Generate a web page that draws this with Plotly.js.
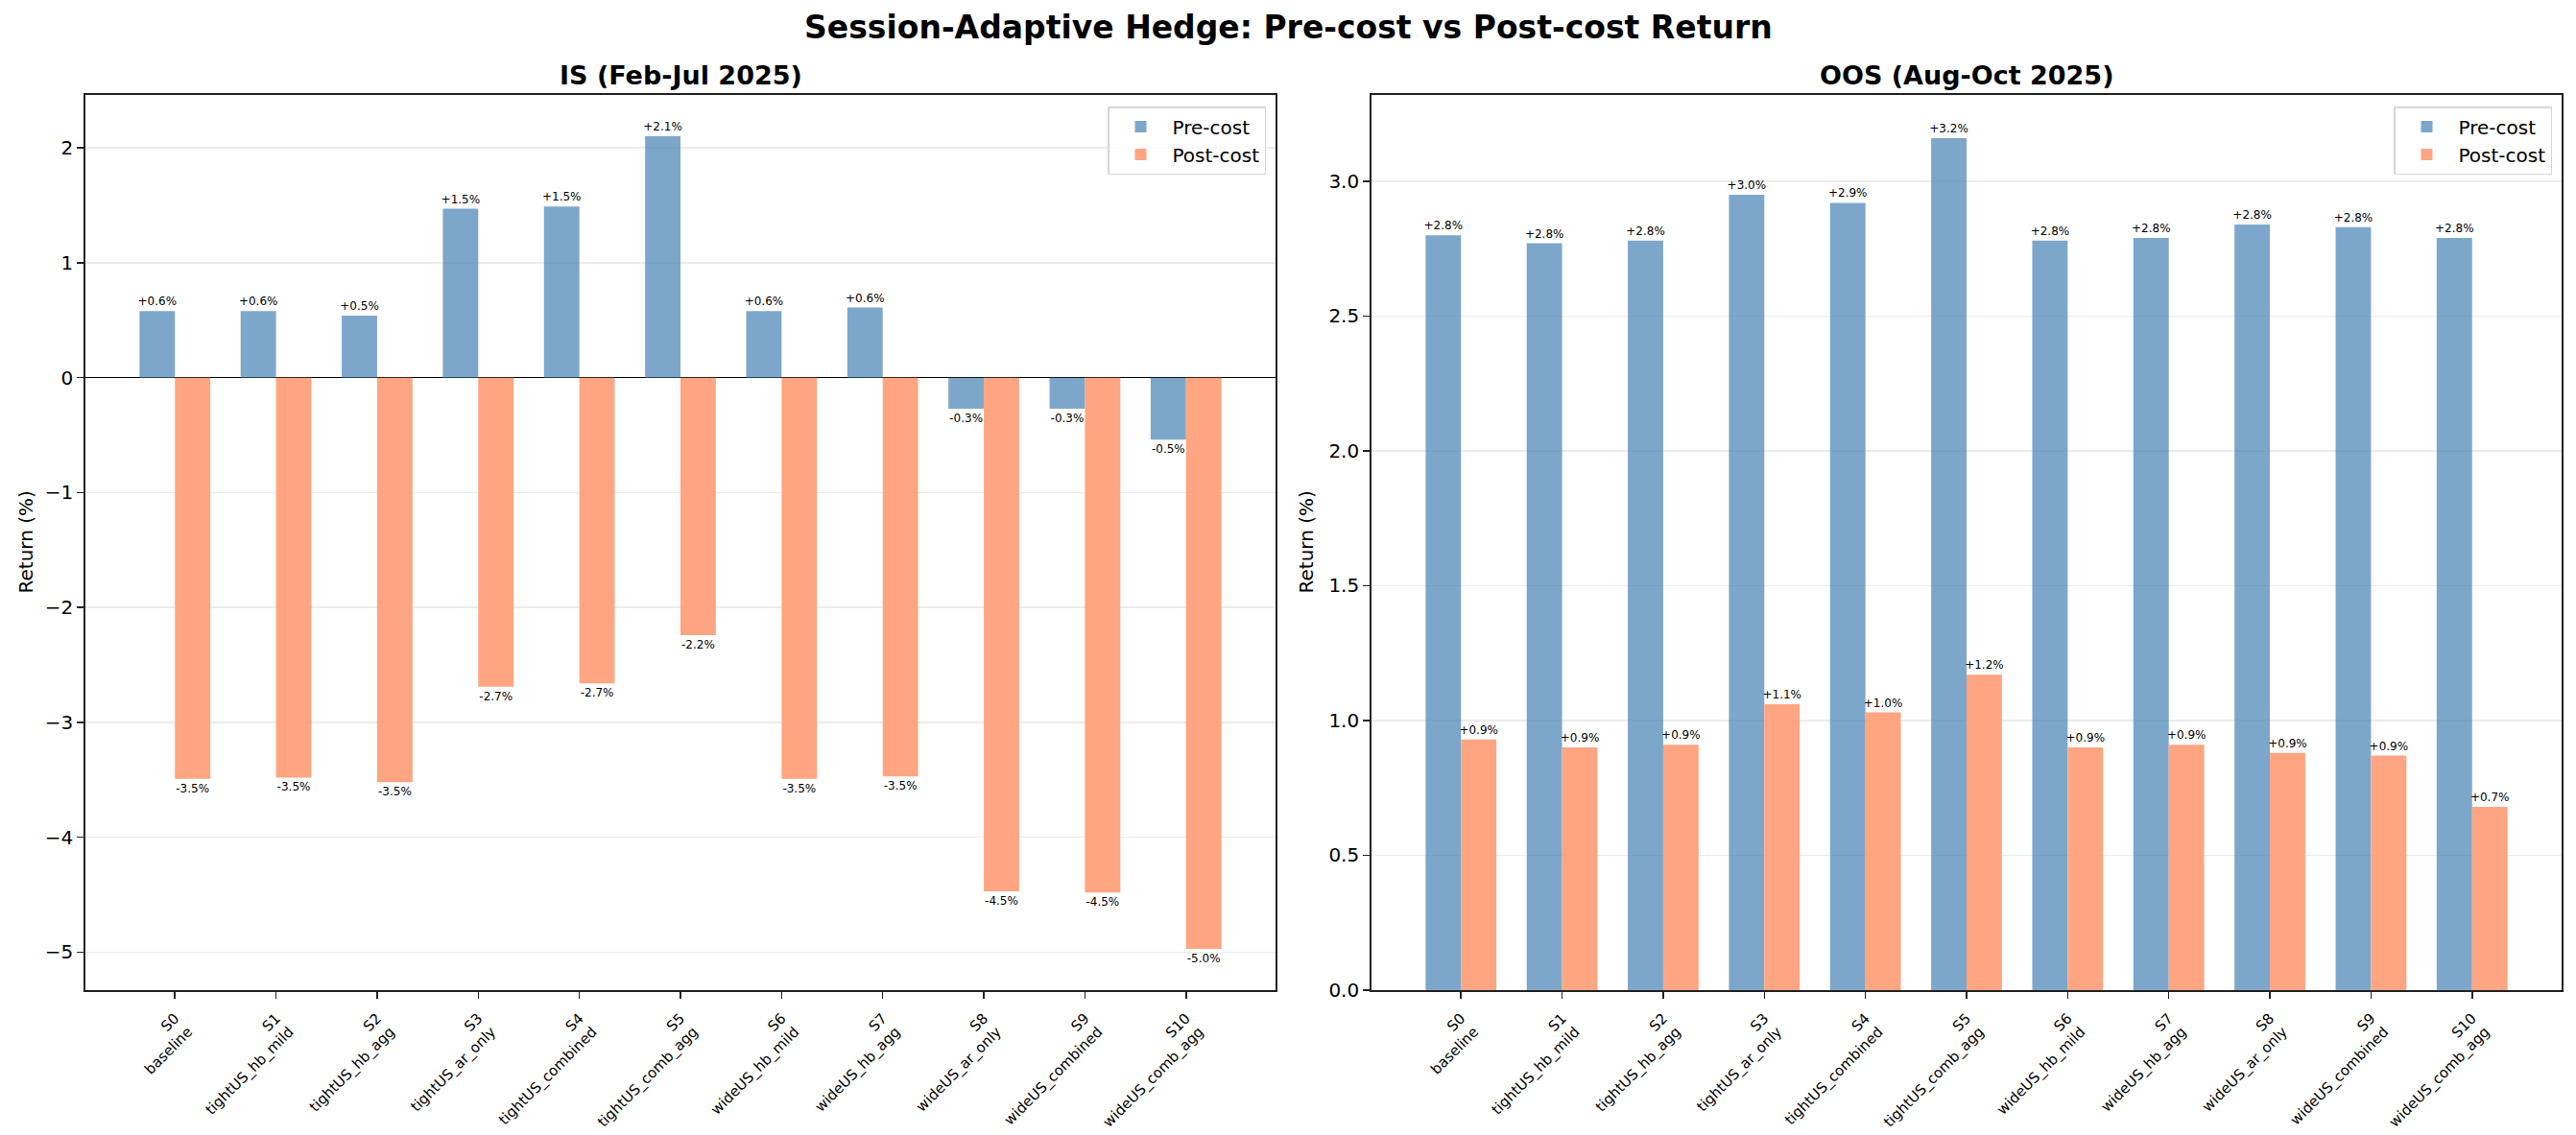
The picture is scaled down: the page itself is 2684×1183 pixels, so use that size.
<!DOCTYPE html>
<html>
<head>
<meta charset="utf-8">
<script src="https://cdn.plot.ly/plotly-3.0.1.min.js"></script>
<style>
  html, body { margin: 0; padding: 0; background: #fff; }
  #chart { width: 2684px; height: 1183px; }
</style>
</head>
<body>
<div id="chart"></div>
<script>
// strategy labels
const codes = ['S0', 'S1', 'S2', 'S3', 'S4', 'S5', 'S6', 'S7', 'S8', 'S9', 'S10'];
const names = ['baseline', 'tightUS_hb_mild', 'tightUS_hb_agg', 'tightUS_ar_only', 'tightUS_combined',
  'tightUS_comb_agg', 'wideUS_hb_mild', 'wideUS_hb_agg', 'wideUS_ar_only', 'wideUS_combined', 'wideUS_comb_agg'];

// IS (Feb-Jul 2025), return in %
const isPre = [0.58, 0.58, 0.54, 1.47, 1.49, 2.10, 0.58, 0.61, -0.27, -0.27, -0.54];
const isPost = [-3.49, -3.48, -3.52, -2.69, -2.66, -2.24, -3.49, -3.47, -4.47, -4.48, -4.97];

// OOS (Aug-Oct 2025), return in %
const oosPre = [2.80, 2.77, 2.78, 2.95, 2.92, 3.16, 2.78, 2.79, 2.84, 2.83, 2.79];
const oosPost = [0.93, 0.90, 0.91, 1.06, 1.03, 1.17, 0.90, 0.91, 0.88, 0.87, 0.68];

const FONT = 'DejaVu Sans, Verdana, sans-serif';
const BLUE = 'rgba(70,130,180,0.7)';
const SALMON = 'rgba(255,160,122,0.95)';

const idx = codes.map((c, i) => i);
const tickText = codes.map((c, i) => c + '<br>' + names[i]);
const fmt = v => (v >= 0 ? '+' : '-') + Math.abs(v).toFixed(1) + '%';

// plot areas in px, same width for both panels
const W = 2684, H = 1183;
const leftPx = [89, 1329], rightPx = [1429, 2669], topPx = 99, bottomPx = 1032;
const dom = a => [a[0] / W, a[1] / W];
const yDom = [1 - bottomPx / H, 1 - topPx / H];

function bars(vals, name, color, offset, xa, ya, legend) {
  return {
    type: 'bar', x: idx, y: vals, name: name,
    width: 0.35, offset: offset,
    marker: {color: color, line: {width: 0}},
    text: vals.map(fmt), textposition: 'outside',
    textfont: {family: FONT, size: 12, color: '#000'},
    constraintext: 'none', cliponaxis: false,
    xaxis: xa, yaxis: ya, legend: legend,
    hoverinfo: 'skip'
  };
}

const data = [
  bars(isPre, 'Pre-cost', BLUE, -0.35, 'x', 'y', 'legend'),
  bars(isPost, 'Post-cost', SALMON, 0, 'x', 'y', 'legend'),
  bars(oosPre, 'Pre-cost', BLUE, -0.35, 'x2', 'y2', 'legend2'),
  bars(oosPost, 'Post-cost', SALMON, 0, 'x2', 'y2', 'legend2')
];

const xCommon = {
  range: [-0.885, 10.885], tickmode: 'array', tickvals: idx, ticktext: tickText,
  tickangle: -45, tickfont: {family: FONT, size: 15, color: '#000'},
  ticks: 'outside', ticklen: 7, tickwidth: 1.5, tickcolor: '#222', ticklabelstandoff: 6,
  showline: true, linecolor: '#222', linewidth: 1.8, mirror: true,
  showgrid: false, zeroline: false, fixedrange: true
};
const yCommon = {
  ticks: 'outside', ticklen: 7, tickwidth: 1.5, tickcolor: '#222',
  tickfont: {family: FONT, size: 20, color: '#000'},
  showline: true, linecolor: '#222', linewidth: 1.8, mirror: true,
  showgrid: true, gridcolor: '#ebebeb', gridwidth: 1.5, fixedrange: true
};

const legendCommon = {
  xanchor: 'right', y: 1 - 111 / H, yanchor: 'top',
  bordercolor: '#d6d6d6', borderwidth: 1.5, bgcolor: 'rgba(255,255,255,0.8)',
  font: {family: FONT, size: 20, color: '#000'}, itemwidth: 56
};

const layout = {
  width: W, height: H,
  margin: {l: 0, r: 0, t: 0, b: 0},
  paper_bgcolor: '#fff', plot_bgcolor: '#fff',
  font: {family: FONT, color: '#000'},
  barmode: 'overlay',
  xaxis: Object.assign({}, xCommon, {domain: dom(leftPx), anchor: 'y'}),
  yaxis: Object.assign({}, yCommon, {
    domain: yDom, anchor: 'x', range: [-5.33, 2.46], dtick: 1,
    zeroline: true, zerolinecolor: '#000', zerolinewidth: 1.3
  }),
  xaxis2: Object.assign({}, xCommon, {domain: dom(rightPx), anchor: 'y2'}),
  yaxis2: Object.assign({}, yCommon, {
    domain: yDom, anchor: 'x2', range: [0, 3.32], dtick: 0.5,
    tickformat: '.1f', zeroline: false
  }),
  legend: Object.assign({}, legendCommon, {x: (leftPx[1] - 10) / W}),
  legend2: Object.assign({}, legendCommon, {x: (rightPx[1] - 10) / W}),
  annotations: [
    {text: '<b>Session-Adaptive Hedge: Pre-cost vs Post-cost Return</b>', xref: 'paper', yref: 'paper',
      x: 0.5, y: 1 - 29 / H, xanchor: 'center', yanchor: 'middle', showarrow: false,
      font: {family: FONT, size: 33, color: '#000'}},
    {text: '<b>IS (Feb-Jul 2025)</b>', xref: 'paper', yref: 'paper',
      x: (leftPx[0] + leftPx[1]) / 2 / W, y: 1 - 79 / H, xanchor: 'center', yanchor: 'middle', showarrow: false,
      font: {family: FONT, size: 27, color: '#000'}},
    {text: '<b>OOS (Aug-Oct 2025)</b>', xref: 'paper', yref: 'paper',
      x: (rightPx[0] + rightPx[1]) / 2 / W, y: 1 - 79 / H, xanchor: 'center', yanchor: 'middle', showarrow: false,
      font: {family: FONT, size: 27, color: '#000'}},
    {text: 'Return (%)', xref: 'paper', yref: 'paper', textangle: -90,
      x: 26 / W, y: (yDom[0] + yDom[1]) / 2, xanchor: 'center', yanchor: 'middle', showarrow: false,
      font: {family: FONT, size: 20, color: '#000'}},
    {text: 'Return (%)', xref: 'paper', yref: 'paper', textangle: -90,
      x: 1360 / W, y: (yDom[0] + yDom[1]) / 2, xanchor: 'center', yanchor: 'middle', showarrow: false,
      font: {family: FONT, size: 20, color: '#000'}}
  ]
};

Plotly.newPlot(document.getElementById('chart'), data, layout, {displayModeBar: false, staticPlot: true});
</script>
</body>
</html>
